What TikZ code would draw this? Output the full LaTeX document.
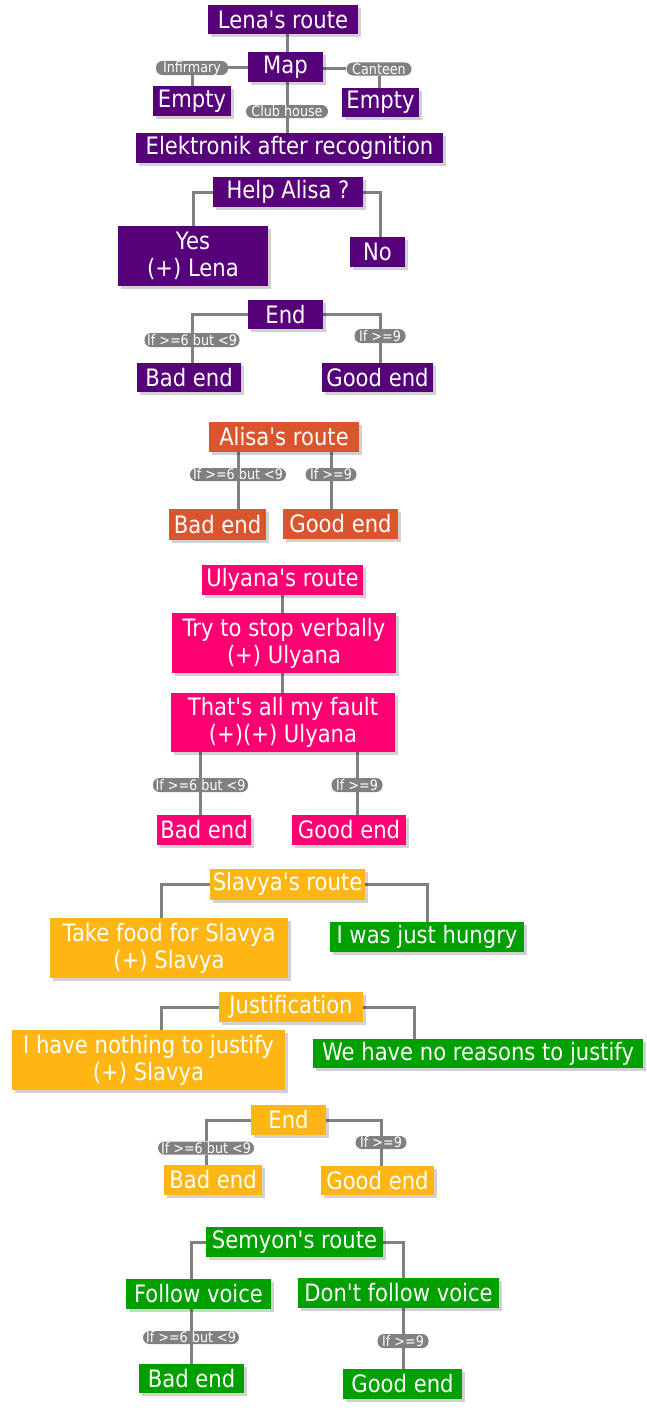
\documentclass[tikz,border=0pt]{standalone}
\usepackage{fontspec}
\newfontfamily\mainf[FakeStretch=0.88]{DejaVu Sans}
\usetikzlibrary{shadows,backgrounds}
\definecolor{cPur}{RGB}{86,0,122}
\definecolor{cOra}{RGB}{218,84,46}
\definecolor{cPnk}{RGB}{255,0,114}
\definecolor{cYel}{RGB}{253,182,20}
\definecolor{cGrn}{RGB}{0,160,0}
\definecolor{cLine}{RGB}{128,128,128}
\tikzset{
  box/.style={rectangle, inner sep=0pt, text=white, align=center,
    font=\mainf\fontsize{24}{27}\selectfont,
    drop shadow={shadow xshift=3pt, shadow yshift=-3pt, opacity=0.18, fill=black}},
  sz/.style 2 args={minimum width=#1pt, minimum height=#2pt},
  pill/.style={rectangle, rounded corners=6.5pt, fill=cLine, text=white, inner sep=0pt,
    font=\mainf\fontsize{14.5}{14.5}\selectfont},
  conn/.style={draw=cLine, line width=3pt},
  pur/.style={box, fill=cPur},
  ora/.style={box, fill=cOra},
  pnk/.style={box, fill=cPnk},
  yel/.style={box, fill=cYel},
  grn/.style={box, fill=cGrn},
}
\begin{document}
\begin{tikzpicture}[x=1pt, y=-1pt]
\useasboundingbox (0,0) rectangle (647,1413);
% Lena
\node[pur, sz={150}{29}] (lena) at (283,19.5) {Lena's route};
\node[pur, sz={75}{30}] (map) at (285.5,67) {Map};
\node[pill, sz={72}{13}] (inf) at (192,68) {Infirmary};
\node[pur, sz={78}{30}] (emptyl) at (192,101) {Empty};
\node[pill, sz={65}{13}] (cant) at (379,69) {Canteen};
\node[pur, sz={77}{29}] (emptyr) at (380.5,102.5) {Empty};
\node[pill, sz={82}{13}] (club) at (287,111.5) {Club house};
\node[pur, sz={307}{30}] (elek) at (289.5,148) {Elektronik after recognition};
\node[pur, sz={150}{30}] (help) at (288,192) {Help Alisa ?};
\node[pur, sz={150}{60}] (yes) at (193,256) {Yes\\(+) Lena};
\node[pur, sz={55}{30}] (no) at (377.5,252) {No};
\node[pur, sz={75}{29}] (end1) at (285.5,314.5) {End};
\node[pill, sz={95}{14}] (p1a) at (192,340) {If >=6 but <9};
\node[pill, sz={51}{14}] (p1b) at (380,336) {If >=9};
\node[pur, sz={104}{29}] (bad1) at (189,377.5) {Bad end};
\node[pur, sz={111}{29}] (good1) at (377.5,377.5) {Good end};
% Alisa
\node[ora, sz={150}{30}] (alisa) at (284,437) {Alisa's route};
\node[pill, sz={96}{13}] (p2a) at (238,474.5) {If >=6 but <9};
\node[pill, sz={51}{13}] (p2b) at (331,474.5) {If >=9};
\node[ora, sz={97}{31}] (bad2) at (217.5,524.5) {Bad end};
\node[ora, sz={115}{30}] (good2) at (340.5,524) {Good end};
% Ulyana
\node[pnk, sz={161}{30}] (ulyana) at (282.5,580) {Ulyana's route};
\node[pnk, sz={224}{60}] (try) at (284,643) {Try to stop verbally\\(+) Ulyana};
\node[pnk, sz={224}{59}] (fault) at (283,722.5) {That's all my fault\\(+)(+) Ulyana};
\node[pill, sz={95}{14}] (p3a) at (200.5,785) {If >=6 but <9};
\node[pill, sz={51}{14}] (p3b) at (357,785) {If >=9};
\node[pnk, sz={94}{30}] (bad3) at (204,830) {Bad end};
\node[pnk, sz={114}{30}] (good3) at (349,830) {Good end};
% Slavya
\node[yel, sz={155}{31}] (slavya) at (287.5,884) {Slavya's route};
\node[yel, sz={238}{60}] (take) at (169,948) {Take food for Slavya\\(+) Slavya};
\node[grn, sz={194}{30}] (hungry) at (427,937) {I was just hungry};
\node[yel, sz={144}{30}] (just) at (291,1007) {Justification};
\node[yel, sz={273}{60}] (nothing) at (148.5,1060) {I have nothing to justify\\(+) Slavya};
\node[grn, sz={330}{29}] (reasons) at (478,1053.5) {We have no reasons to justify};
\node[yel, sz={75}{30}] (end5) at (288.5,1120) {End};
\node[pill, sz={96}{13}] (p5a) at (206,1148) {If >=6 but <9};
\node[pill, sz={51}{13}] (p5b) at (381,1142.5) {If >=9};
\node[yel, sz={98}{30}] (bad5) at (213,1180) {Bad end};
\node[yel, sz={113}{29}] (good5) at (377.5,1180.5) {Good end};
% Semyon
\node[grn, sz={177}{30}] (semyon) at (294.5,1242) {Semyon's route};
\node[grn, sz={145}{30}] (follow) at (198.5,1294) {Follow voice};
\node[grn, sz={201}{30}] (dont) at (398.5,1293) {Don't follow voice};
\node[pill, sz={96}{13}] (p6a) at (191,1337.5) {If >=6 but <9};
\node[pill, sz={51}{14}] (p6b) at (403,1341) {If >=9};
\node[grn, sz={105}{29}] (bad6) at (191.5,1378.5) {Bad end};
\node[grn, sz={119}{30}] (good6) at (402.5,1384) {Good end};

\begin{scope}[on background layer]
\fill[white] (0,0) rectangle (647,1413);
\draw[conn] (lena.south -| club) -- (map.north -| club);
\draw[conn] (map.south -| club) -- (club |- elek.north);
\draw[conn] (map.west |- inf) -- (inf) -- (inf |- emptyl.north);
\draw[conn] (map.east |- cant) -- (cant) -- (cant |- emptyr.north);
\draw[conn] (help.west) -| (yes.north);
\draw[conn] (help.east) -| ([xshift=2.5pt]no.north);
\draw[conn] (end1.west) -| (p1a) -- (p1a |- bad1.north);
\draw[conn] (end1.east) -| (p1b) -- (p1b |- good1.north);
\draw[conn] (p2a |- alisa.south) -- (p2a |- bad2.north);
\draw[conn] (p2b |- alisa.south) -- (p2b |- good2.north);
\draw[conn] (ulyana.south) -- (ulyana.south |- try.north);
\draw[conn] (ulyana.south |- try.south) -- (ulyana.south |- fault.north);
\draw[conn] (p3a |- fault.south) -- (p3a |- bad3.north);
\draw[conn] (p3b |- fault.south) -- (p3b |- good3.north);
\draw[conn] (slavya.west) -| ([xshift=-8pt]take.north);
\draw[conn] (slavya.east) -| (hungry.north);
\draw[conn] (just.west) -| ([xshift=12.5pt]nothing.north);
\draw[conn] (just.east) -| ([xshift=-64pt]reasons.north);
\draw[conn] (end5.west) -| (p5a) -- (p5a |- bad5.north);
\draw[conn] (end5.east) -| (p5b) -- (p5b |- good5.north);
\draw[conn] (semyon.west) -| (p6a |- follow.north);
\draw[conn] (p6a |- follow.south) -- (p6a |- bad6.north);
\draw[conn] (semyon.east) -| (p6b |- dont.north);
\draw[conn] (p6b |- dont.south) -- (p6b |- good6.north);
\end{scope}
\end{tikzpicture}
\end{document}
